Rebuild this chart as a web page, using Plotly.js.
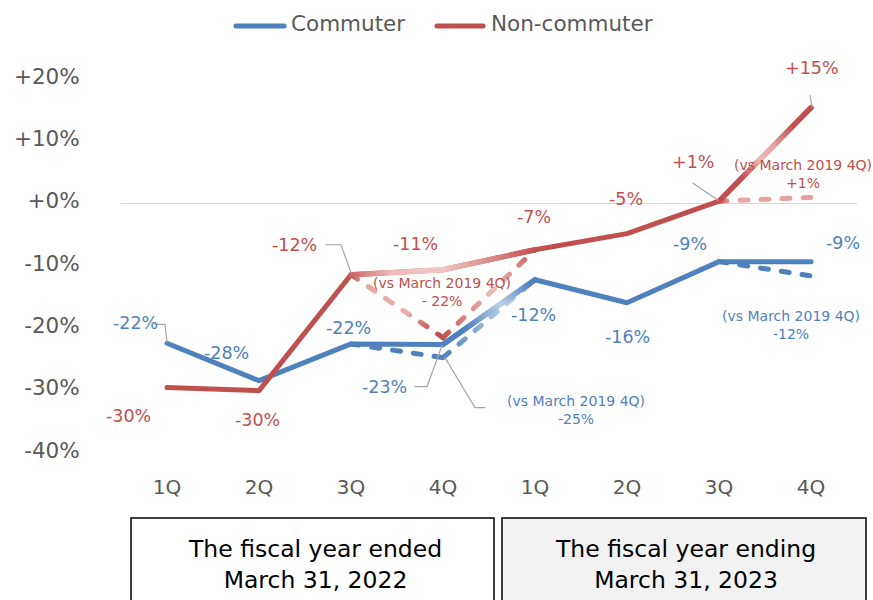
<!DOCTYPE html>
<html><head><meta charset="utf-8">
<script src="https://cdn.plot.ly/plotly-3.0.1.min.js"></script>
<style>html,body{margin:0;padding:0;background:#fff}#chart{width:873px;height:600px}</style>
</head><body><div id="chart"></div>
<script>
// ---------- data ----------
const categories = ['FY2022 1Q','FY2022 2Q','FY2022 3Q','FY2022 4Q','FY2023 1Q','FY2023 2Q','FY2023 3Q','FY2023 4Q'];
const tickLabels = ['1Q','2Q','3Q','4Q','1Q','2Q','3Q','4Q'];
const commuter = [-22.4,-28.4,-22.5,-22.6,-12.2,-15.9,-9.3,-9.3];
const commuterVs2019 = [null,null,-22.5,-24.7,-12.2,null,-9.3,-11.6];
const nonCommuter = [-29.5,-30.0,-11.4,-10.6,-7.4,-4.8,0.4,15.4];
const nonCommuterVs2019 = [null,null,-11.4,-21.5,-7.4,null,0.4,1.0];
const commuterLabels = ['-22%','-28%','-22%','-23%','-12%','-16%','-9%','-9%'];
const nonCommuterLabels = ['-30%','-30%','-12%','-11%','-7%','-5%','+1%','+15%'];
const commuterVsLabels = [null,null,null,'-25%',null,null,null,'-12%'];
const nonCommuterVsLabels = [null,null,null,'- 22%',null,null,null,'+1%'];
const vsText = '(vs March 2019 4Q)';
const yTickVals = [-40,-30,-20,-10,0,10,20];
const yTickText = ['-40%','-30%','-20%','-10%','+0%','+10%','+20%'];
const seriesNames = ['Commuter','Non-commuter'];
const fyTitles = ['The fiscal year ended<br>March 31, 2022','The fiscal year ending<br>March 31, 2023'];

// ---------- styles ----------
const BLUE='#4f81bd', RED='#c0504d', BLUE_L='#bcd0e9', RED_L='#eebcbb', GRAY='#a6a6a6';
const FONT='"DejaVu Sans", Verdana, sans-serif';
const L=121, T=79, W=736, H=374;
const px = x => (x-L)/W, py = y => (T+H-y)/H;

function seg(arr,i){return {x:[categories[i],categories[i+1]], y:[arr[i],arr[i+1]]};}
const data=[], grads=[];
function addLine(xy,color,dash,width,stops){
  data.push(Object.assign({type:'scatter',mode:'lines',hoverinfo:'skip',showlegend:false,
    line:{color:color,width:width||5,dash:dash||'solid'}},xy));
  if(stops) grads.push({idx:data.length-1,stops:stops});
}
const DASH='8px,13px';
// commuter dashed
addLine(seg(commuterVs2019,2),BLUE,DASH);
addLine(seg(commuterVs2019,3),BLUE,DASH,5,[[0,BLUE],[0.3,'#7ea3d0'],[0.7,BLUE_L],[1,'#7199ca']]);
addLine(seg(commuterVs2019,6),BLUE,DASH);
// commuter solid
addLine({x:categories,y:commuter},BLUE,'solid');
addLine(seg(commuter,3),BLUE,'solid',5.5,[[0,BLUE],[0.25,BLUE],[0.62,BLUE_L],[0.95,BLUE],[1,BLUE]]);
// non-commuter dashed
addLine(seg(nonCommuterVs2019,2),RED,DASH,5,[[0,RED],[0.12,'#e5a3a1'],[0.6,'#e9b0ae'],[0.9,RED],[1,RED]]);
addLine(seg(nonCommuterVs2019,3),RED,DASH,5,[[0,RED],[0.25,'#d88885'],[0.55,RED_L],[0.85,'#d47f7c'],[1,RED]]);
addLine(seg(nonCommuterVs2019,6),RED,DASH,5,[[0,RED],[0.12,'#e6a7a5'],[1,'#e3a09e']]);
// non-commuter solid
addLine({x:categories,y:nonCommuter},RED,'solid');
addLine(seg(nonCommuter,2),RED,'solid',5.5,[[0,'#cc6562'],[0.45,RED_L],[1,'#f0c4c3']]);
addLine(seg(nonCommuter,3),RED,'solid',5.5,[[0,'#f0c4c3'],[0.5,'#db8d8b'],[1,RED]]);
addLine(seg(nonCommuter,6),RED,'solid',5.5,[[0,RED],[0.25,RED],[0.45,'#edbab9'],[0.6,'#e2a19f'],[0.8,RED],[1,RED]]);

// ---------- annotations ----------
const annotations=[];
const commuterShift=[[-32,20],[-33,28],[-3,16],[-59,-42],[-2,-35],[0,-34],[-29,18],[32,19]];
const nonCommuterShift=[[-39,-28],[-2,-29],[-57,30],[-28,26],[-1,33],[-1,35],[-26,39],[1,40]];
const commuterVsShift={3:[133,-52],7:[-20,-49]};
const nonCommuterVsShift={3:[-1,46],7:[-8,23]};
function lab(i,val,text,shift,color,size){
  annotations.push({x:categories[i],y:val,xref:'x',yref:'y',text:text,showarrow:false,
    xshift:shift[0],yshift:shift[1],font:{family:FONT,size:size,color:color},align:'center'});
}
categories.forEach((c,i)=>{
  lab(i,commuter[i],commuterLabels[i],commuterShift[i],BLUE,17.5);
  lab(i,nonCommuter[i],nonCommuterLabels[i],nonCommuterShift[i],RED,17.5);
  if(commuterVsLabels[i]) lab(i,commuterVs2019[i],vsText+'<br>'+commuterVsLabels[i],commuterVsShift[i],BLUE,14);
  if(nonCommuterVsLabels[i]) lab(i,nonCommuterVs2019[i],vsText+'<br>'+nonCommuterVsLabels[i],nonCommuterVsShift[i],RED,14);
});
// legend text
annotations.push({xref:'paper',yref:'paper',x:px(289),y:py(23),xanchor:'left',yanchor:'middle',showarrow:false,
  text:seriesNames[0],font:{family:FONT,size:21.5,color:'#595959'}});
annotations.push({xref:'paper',yref:'paper',x:px(489),y:py(23),xanchor:'left',yanchor:'middle',showarrow:false,
  text:seriesNames[1],font:{family:FONT,size:21.5,color:'#595959'}});
// fiscal-year boxes text
annotations.push({xref:'paper',yref:'paper',x:px(315),y:py(564),xanchor:'center',yanchor:'middle',showarrow:false,
  text:fyTitles[0],font:{family:FONT,size:23.5,color:'#000'},align:'center'});
annotations.push({xref:'paper',yref:'paper',x:px(685),y:py(564),xanchor:'center',yanchor:'middle',showarrow:false,
  text:fyTitles[1],font:{family:FONT,size:23.5,color:'#000'},align:'center'});

// ---------- shapes ----------
const shapes=[];
shapes.push({type:'rect',xref:'paper',yref:'paper',x0:px(131),x1:px(494),y0:py(518),y1:py(615),line:{color:'#000',width:1.5},fillcolor:'rgba(0,0,0,0)'});
shapes.push({type:'rect',xref:'paper',yref:'paper',x0:px(502),x1:px(866),y0:py(518),y1:py(615),line:{color:'#000',width:1.5},fillcolor:'#f2f2f2',layer:'below'});
shapes.push({type:'line',xref:'paper',yref:'paper',x0:px(236),x1:px(284),y0:py(26),y1:py(26),line:{color:BLUE,width:5}});
shapes.push({type:'line',xref:'paper',yref:'paper',x0:px(437),x1:px(483),y0:py(26),y1:py(26),line:{color:RED,width:5}});
function leader(i,val,path){
  shapes.push({type:'path',xref:'x',yref:'y',xsizemode:'pixel',ysizemode:'pixel',xanchor:categories[i],yanchor:val,
    path:path,line:{color:GRAY,width:1.2}});
}
leader(0,commuter[0],'M-12,19 L-2,19 L0,1');
leader(3,commuter[3],'M-28,-42 L-16,-42 L-1,-1');
leader(3,commuterVs2019[3],'M2,0 L32,-50 L42,-50');
leader(2,nonCommuter[2],'M-25,30 L-10,30 L0,2');
leader(6,nonCommuter[6],'M-26,18 L-1,1');
leader(7,nonCommuter[7],'M-1,12 L1,1');

const layout={
  width:873,height:600,margin:{l:L,r:873-L-W,t:T,b:600-T-H},
  paper_bgcolor:'#fff',plot_bgcolor:'rgba(0,0,0,0)',showlegend:false,
  font:{family:FONT,color:'#595959'},
  xaxis:{type:'category',categoryorder:'array',categoryarray:categories,range:[-0.5,7.5],
    tickvals:categories,ticktext:tickLabels,showgrid:false,zeroline:false,showline:false,
    ticks:'outside',ticklen:16,tickcolor:'rgba(0,0,0,0)',tickfont:{family:FONT,size:20,color:'#595959'}},
  yaxis:{range:[-40,20],tickvals:yTickVals,ticktext:yTickText,showgrid:false,zeroline:true,
    zerolinecolor:'#d9d9d9',zerolinewidth:1.5,showline:false,ticks:'outside',ticklen:36,ticklabelshift:-3,
    tickcolor:'rgba(0,0,0,0)',tickfont:{family:FONT,size:21.5,color:'#595959'}},
  shapes:shapes,annotations:annotations
};

const gd=document.getElementById('chart');
Plotly.newPlot(gd,data,layout,{staticPlot:true,displayModeBar:false}).then(()=>{
  const svg=gd.querySelector('.main-svg');
  let defs=svg.querySelector('defs');
  const NS='http://www.w3.org/2000/svg';
  const traces=gd.querySelectorAll('.scatterlayer .trace');
  traces.forEach(t=>{const p=t.querySelector('path.js-line'); if(p){p.style.strokeLinecap='round';p.style.strokeLinejoin='round';}});
  grads.forEach((g,k)=>{
    const p=traces[g.idx] && traces[g.idx].querySelector('path.js-line');
    if(!p) return;
    const nums=(p.getAttribute('d').match(/-?\d+(\.\d+)?/g)||[]).map(Number);
    if(nums.length<4) return;
    const lg=document.createElementNS(NS,'linearGradient');
    lg.setAttribute('id','lgrad'+k);
    lg.setAttribute('gradientUnits','userSpaceOnUse');
    lg.setAttribute('x1',nums[0]);lg.setAttribute('y1',nums[1]);
    lg.setAttribute('x2',nums[nums.length-2]);lg.setAttribute('y2',nums[nums.length-1]);
    g.stops.forEach(s=>{const st=document.createElementNS(NS,'stop');st.setAttribute('offset',s[0]);st.setAttribute('stop-color',s[1]);lg.appendChild(st);});
    defs.appendChild(lg);
    p.style.stroke='url(#lgrad'+k+')';
  });
  gd.querySelectorAll('.shapelayer path').forEach(p=>{const d=p.getAttribute('d')||''; if(d.indexOf('Z')<0){p.style.strokeLinecap='round';}});
});
</script></body></html>
